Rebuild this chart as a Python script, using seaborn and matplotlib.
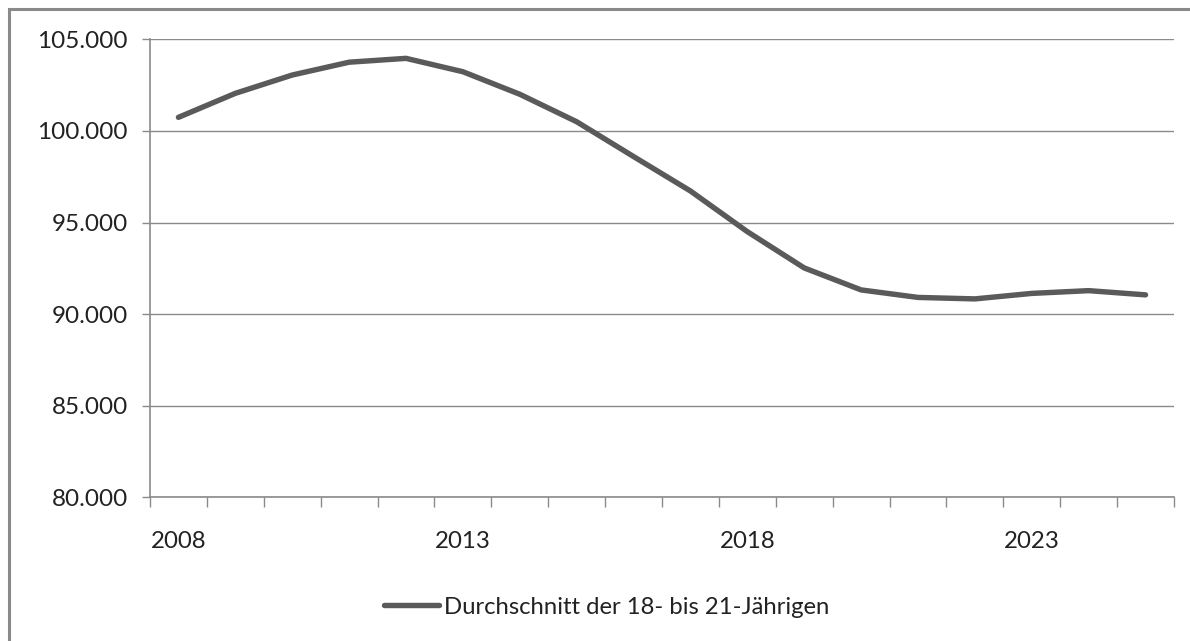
import matplotlib
matplotlib.use("Agg")
import matplotlib.pyplot as plt
from matplotlib.patches import Rectangle
from matplotlib.ticker import FixedLocator, FuncFormatter
import seaborn as sns
import pandas as pd

# Average number of 18- to 21-year-olds per year
years = list(range(2008, 2026))
values = [100740, 102050, 103050, 103750, 103960, 103230, 102000, 100500,
          98600, 96720, 94500, 92520, 91320, 90910, 90830, 91130, 91280, 91050]
series_label = "Durchschnitt der 18- bis 21-Jährigen"
year_labels = [2008, 2013, 2018, 2023]
y_ticks = [80000, 85000, 90000, 95000, 100000, 105000]

df = pd.DataFrame({"Jahr": years, "Wert": values})

sns.set_theme(style="white")
plt.rcParams["font.family"] = ["Lato", "DejaVu Sans"]

W, H = 1190, 641
fig = plt.figure(figsize=(W / 100, H / 100), dpi=100)
ax = fig.add_axes([150 / W, 1 - 497.3 / H, (1174 - 150) / W, (497.3 - 39.3) / H])

grey = "#8a8a8a"
text_col = "#222222"
line_col = "#5a5a5a"

sns.lineplot(data=df, x="Jahr", y="Wert", ax=ax, color=line_col, linewidth=3.9,
             label=series_label, legend=False)
for ln in ax.get_lines():
    ln.set_solid_joinstyle("round")
    ln.set_solid_capstyle("round")

ax.set_xlim(years[0] - 0.5, years[-1] + 0.5)
ax.set_ylim(y_ticks[0], y_ticks[-1])
ax.set_xlabel("")
ax.set_ylabel("")

# y axis: gridlines with German thousands separator
ax.yaxis.set_major_locator(FixedLocator(y_ticks))
ax.yaxis.set_major_formatter(FuncFormatter(lambda v, p: f"{int(v):,}".replace(",", ".")))
ax.grid(axis="y", color=grey, linewidth=1.0)
ax.grid(axis="x", visible=False)
ax.set_axisbelow(True)
ax.tick_params(axis="y", which="major", direction="out", length=6, width=1,
               color=grey, labelsize=17.5, labelcolor=text_col, pad=10, left=True)

# x axis: labels every five years, tick marks between categories
ax.xaxis.set_major_locator(FixedLocator(year_labels))
ax.xaxis.set_major_formatter(FuncFormatter(lambda v, p: f"{int(v)}"))
ax.xaxis.set_minor_locator(FixedLocator([y - 0.5 for y in years] + [years[-1] + 0.5]))
ax.tick_params(axis="x", which="major", length=0, labelsize=17.3,
               labelcolor=text_col, pad=24)
ax.tick_params(axis="x", which="minor", direction="out", length=7, width=1,
               color=grey, bottom=True)

for side in ["top", "right"]:
    ax.spines[side].set_visible(False)
for side in ["left", "bottom"]:
    ax.spines[side].set_color(grey)
    ax.spines[side].set_linewidth(1.2)

# chart frame
fig.patches.append(Rectangle((8.7 / W, -0.1), 1.2, 1.1 - 9.5 / H,
                             transform=fig.transFigure, fill=False,
                             edgecolor="#8a8a8a", linewidth=2.2, clip_on=False))

handles, labels = ax.get_legend_handles_labels()
leg = fig.legend(handles, labels, loc="center", bbox_to_anchor=(607 / W, 1 - 607 / H),
                 frameon=False, fontsize=17.2, handlelength=2.3, handletextpad=0.22,
                 labelcolor=text_col)

fig.savefig("out.png", dpi=100, facecolor="white")
